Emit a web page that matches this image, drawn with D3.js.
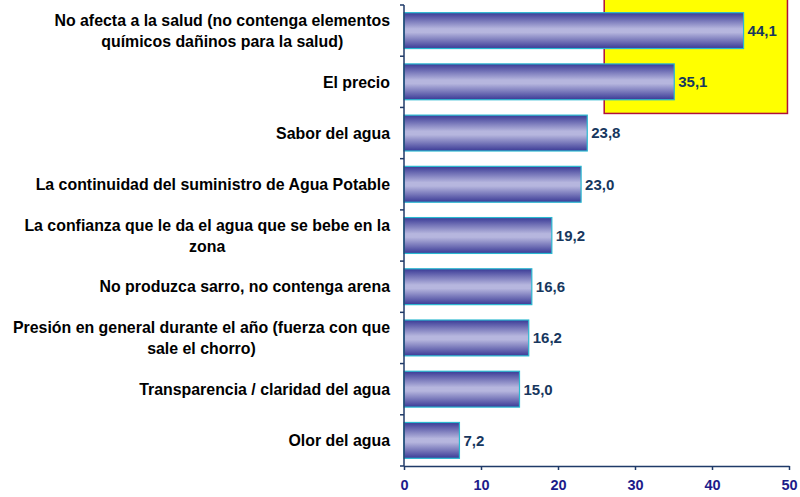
<!DOCTYPE html>
<html lang="es">
<head>
<meta charset="utf-8" />
<title>Atributos del agua</title>
<style>
  body { margin: 0; background: #fff; }
  svg { display: block; font-family: "Liberation Sans", Arial, sans-serif; }
  .cat { font-weight: bold; font-size: 15.9px; fill: #000; }
  .val { font-weight: bold; font-size: 15px; fill: #17375e; }
  .xaxis text { font-weight: bold; font-size: 14.5px; fill: #1c1c8a; }
</style>
<script src="https://d3js.org/d3.v7.min.js"></script>
</head>
<body>
<svg width="800" height="497"></svg>
<script>
// data
var categories = [
  ["No afecta a la salud (no contenga elementos", "químicos dañinos para la salud)"],
  ["El precio"],
  ["Sabor del agua"],
  ["La continuidad del suministro de Agua Potable"],
  ["La confianza que le da el agua que se bebe en la", "zona"],
  ["No produzca sarro, no contenga arena"],
  ["Presión en general durante el año (fuerza con que", "sale el chorro)"],
  ["Transparencia / claridad del agua"],
  ["Olor del agua"]
];
var values = [44.1, 35.1, 23.8, 23.0, 19.2, 16.6, 16.2, 15.0, 7.2];
var tickValues = [0, 10, 20, 30, 40, 50];
var highlightRange = [26, 49.8]; // yellow box, in axis units
var highlightCount = 2;          // covers the first two bars

var svg = d3.select("svg");
var plotLeft = 404, plotRight = 789, plotTop = 5, plotBottom = 466;

var x = d3.scaleLinear().domain([0, 50]).range([plotLeft, plotRight]);
var y = d3.scaleBand().domain(d3.range(categories.length)).range([plotTop, plotBottom]).paddingInner(0.3).paddingOuter(0.15);

// gradient for bars
var defs = svg.append("defs");
var grad = defs.append("linearGradient").attr("id", "barGrad")
  .attr("x1", 0).attr("y1", 0).attr("x2", 0).attr("y2", 1);
grad.append("stop").attr("offset", "0%").attr("stop-color", "#3a3a96");
grad.append("stop").attr("offset", "45%").attr("stop-color", "#b6b6de");
grad.append("stop").attr("offset", "55%").attr("stop-color", "#b6b6de");
grad.append("stop").attr("offset", "100%").attr("stop-color", "#3a3a96");

// yellow highlight box behind the top bars
var step = y.step();
svg.append("rect")
  .attr("x", x(highlightRange[0]))
  .attr("y", -3)
  .attr("width", x(highlightRange[1]) - x(highlightRange[0]))
  .attr("height", plotTop + step * highlightCount + 9)
  .attr("fill", "#ffff00")
  .attr("stroke", "#b0103a")
  .attr("stroke-width", 1.5);

// bars
svg.selectAll("rect.bar")
  .data(values)
  .enter()
  .append("rect")
  .attr("class", "bar")
  .attr("x", x(0))
  .attr("y", (d, i) => y(i))
  .attr("width", d => x(d) - x(0))
  .attr("height", y.bandwidth())
  .attr("fill", "url(#barGrad)")
  .attr("stroke", "#2ab8d0")
  .attr("stroke-width", 1.2);

// value labels
svg.selectAll("text.val")
  .data(values)
  .enter()
  .append("text")
  .attr("class", "val")
  .attr("x", d => x(d) + 4)
  .attr("y", (d, i) => y(i) + y.bandwidth() / 2)
  .attr("dy", "0.36em")
  .text(d => d.toFixed(1).replace(".", ","));

// category labels: block right aligned, lines centered inside the block
var lineH = 21;
categories.forEach(function (lines, i) {
  var g = svg.append("g");
  var cy = y(i) + y.bandwidth() / 2;
  var texts = g.selectAll("text").data(lines).enter().append("text")
    .attr("class", "cat")
    .attr("text-anchor", "middle")
    .attr("y", (d, j) => cy + (j - (lines.length - 1) / 2) * lineH)
    .attr("dy", "0.36em")
    .text(d => d);
  var maxW = d3.max(texts.nodes(), n => n.getComputedTextLength());
  texts.attr("x", 390 - maxW / 2);
});

// y axis line with small ticks at band edges
var yAxis = svg.append("g").attr("class", "yaxis");
yAxis.append("line")
  .attr("x1", plotLeft).attr("x2", plotLeft)
  .attr("y1", plotTop).attr("y2", plotBottom)
  .attr("stroke", "#1f3a68").attr("stroke-width", 1.5);
yAxis.selectAll("line.tk")
  .data(d3.range(categories.length + 1))
  .enter()
  .append("line")
  .attr("class", "tk")
  .attr("x1", plotLeft - 4).attr("x2", plotLeft)
  .attr("y1", i => plotTop + i * step).attr("y2", i => plotTop + i * step)
  .attr("stroke", "#1f3a68").attr("stroke-width", 1.5);

// x axis
var xAxis = svg.append("g")
  .attr("class", "xaxis")
  .attr("transform", "translate(0," + plotBottom + ")")
  .call(d3.axisBottom(x).tickValues(tickValues).tickSize(4).tickPadding(10).tickSizeOuter(0));
xAxis.select(".domain").attr("stroke", "#1f3a68").attr("stroke-width", 1.5);
xAxis.selectAll(".tick line").attr("stroke", "#1f3a68").attr("stroke-width", 1.5);
</script>
</body>
</html>
